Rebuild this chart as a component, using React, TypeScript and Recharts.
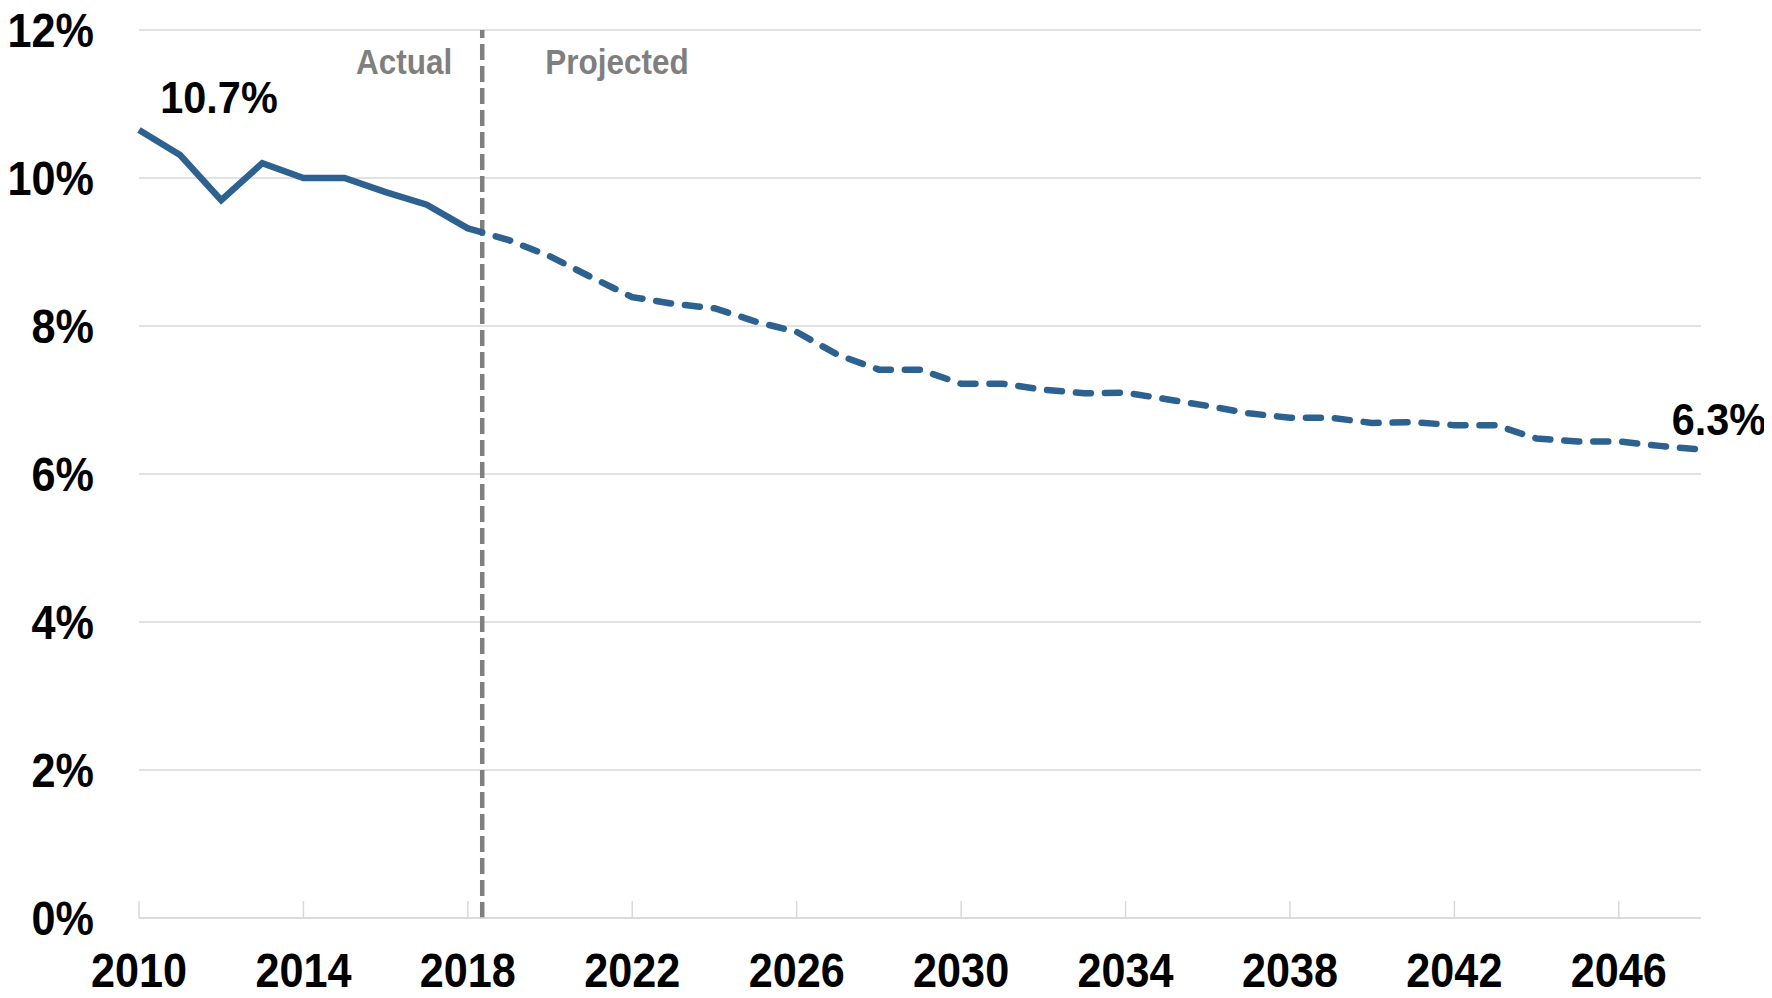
import React from "react"
import { LineChart, Line, XAxis, YAxis, CartesianGrid, ReferenceLine } from "recharts"

// years and values (share, %)
const actualYears = [2010, 2011, 2012, 2013, 2014, 2015, 2016, 2017, 2018]
const actualValues = [10.65, 10.31, 9.7, 10.2, 10.0, 10.0, 9.81, 9.64, 9.32]

const projectedYears = [
  2018, 2019, 2020, 2021, 2022, 2023, 2024, 2025, 2026, 2027, 2028, 2029, 2030,
  2031, 2032, 2033, 2034, 2035, 2036, 2037, 2038, 2039, 2040, 2041, 2042, 2043,
  2044, 2045, 2046, 2047, 2048,
]
const projectedValues = [
  9.32, 9.16, 8.94, 8.66, 8.39, 8.3, 8.24, 8.06, 7.92, 7.61, 7.41, 7.41, 7.22,
  7.22, 7.14, 7.09, 7.1, 7.01, 6.92, 6.82, 6.76, 6.76, 6.69, 6.7, 6.66, 6.66,
  6.48, 6.44, 6.44, 6.38, 6.33,
]

const xTicks = [2010, 2014, 2018, 2022, 2026, 2030, 2034, 2038, 2042, 2046]
const yTicks = [0, 2, 4, 6, 8, 10, 12]
const dividerYear = 2018.35

// no Calibri here, so squeeze Liberation Sans Bold a bit horizontally
const FONT = "'Liberation Sans', Arial, sans-serif"
const BLUE = "#2c6190"
const GRAY = "#7f7f7f"
const GRID = "#d9d9d9"

type Row = { year: number; actual?: number; projected?: number }

const rows: Row[] = []
actualYears.forEach((year, i) => rows.push({ year, actual: actualValues[i] }))
projectedYears.forEach((year, i) => {
  const row = rows.find((r) => r.year === year)
  if (row) row.projected = projectedValues[i]
  else rows.push({ year, projected: projectedValues[i] })
})

type NarrowProps = {
  x: number
  y: number
  size: number
  anchor?: "start" | "middle" | "end"
  fill?: string
  dy?: string
  sx?: number
  children: React.ReactNode
}

const NarrowText = ({ x, y, size, anchor = "middle", fill = "#000", dy = "0.355em", sx = 0.9, children }: NarrowProps) => (
  <text
    transform={`translate(${x},${y}) scale(${sx},1)`}
    textAnchor={anchor}
    dy={dy}
    fontFamily={FONT}
    fontWeight="bold"
    fontSize={size}
    fill={fill}
  >
    {children}
  </text>
)

const XTick = (props: any) => (
  <NarrowText x={props.x} y={props.y} size={48} dy="0.71em">
    {props.payload.value}
  </NarrowText>
)

const YTick = (props: any) => (
  <NarrowText x={props.x} y={props.y} size={48} anchor="end">
    {`${props.payload.value}%`}
  </NarrowText>
)

const firstLabel = (props: any) => {
  const { x, y, index, value } = props
  if (index !== 0) return null
  return (
    <NarrowText x={x + 80} y={y - 33} size={45} sx={0.92}>
      {`${value.toFixed(1)}%`}
    </NarrowText>
  )
}

const lastLabel = (props: any) => {
  const { x, y, index, value } = props
  if (index !== rows.length - 1) return null
  return (
    <NarrowText x={x + 18} y={y - 31} size={45} sx={0.92}>
      {`${value.toFixed(1)}%`}
    </NarrowText>
  )
}

const dividerLabel = (props: any) => {
  const { viewBox } = props
  const x = viewBox.x
  const y = viewBox.y + 32
  return (
    <g>
      <NarrowText x={x - 30} y={y} size={35} anchor="end" fill={GRAY}>
        Actual
      </NarrowText>
      <NarrowText x={x + 63} y={y} size={35} anchor="start" fill={GRAY}>
        Projected
      </NarrowText>
    </g>
  )
}

export default function App() {
  // cancel the body margin so the chart fills the whole window
  return (
    <div style={{ margin: -8 }}>
      <LineChart width={1772} height={998} data={rows} margin={{ top: 30, right: 71, bottom: 0, left: 0 }}>
        <CartesianGrid vertical={false} stroke={GRID} strokeWidth={1.5} />
        <XAxis
          dataKey="year"
          type="number"
          domain={[2010, 2048]}
          ticks={xTicks}
          interval={0}
          height={80}
          axisLine={{ stroke: GRID, strokeWidth: 1.5 }}
          tickLine={{ stroke: GRID, strokeWidth: 1.5 }}
          tickSize={-17}
          tickMargin={52}
          tick={XTick}
        />
        <YAxis
          domain={[0, 12]}
          ticks={yTicks}
          width={139}
          axisLine={false}
          tickLine={false}
          tickSize={0}
          tickMargin={45}
          tick={YTick}
        />
        <ReferenceLine
          x={dividerYear}
          stroke={GRAY}
          strokeWidth={4.5}
          strokeDasharray="16 6"
          label={dividerLabel}
        />
        <Line
          dataKey="projected"
          stroke={BLUE}
          strokeWidth={6.5}
          strokeDasharray="15 14"
          strokeLinecap="round"
          dot={false}
          activeDot={false}
          isAnimationActive={false}
          label={lastLabel}
        />
        <Line
          dataKey="actual"
          stroke={BLUE}
          strokeWidth={6.5}
          dot={false}
          activeDot={false}
          isAnimationActive={false}
          label={firstLabel}
        />
      </LineChart>
    </div>
  )
}
